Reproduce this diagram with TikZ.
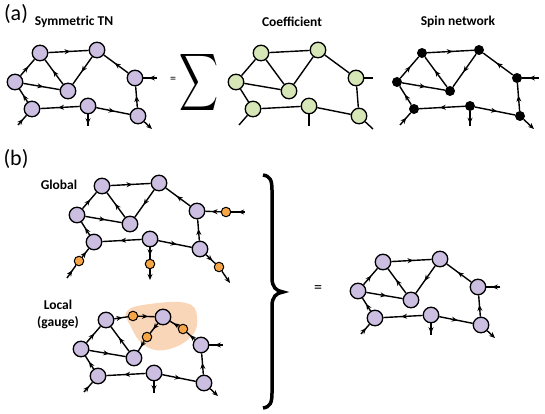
\documentclass[tikz,border=0pt]{standalone}
\usepackage{fontspec}
\setmainfont{Carlito}
\usetikzlibrary{decorations.markings,arrows.meta}
\definecolor{lav}{RGB}{203,190,225}
\definecolor{grn}{RGB}{214,230,182}
\definecolor{org}{RGB}{246,166,70}
\definecolor{peach}{RGB}{250,214,184}
\tikzset{
 pnode/.style={circle,draw=black,line width=1.3pt,fill=lav,minimum size=15.5pt,inner sep=0pt},
 gnode/.style={pnode,fill=grn},
 bnode/.style={circle,fill=black,minimum size=10pt,inner sep=0pt},
 onode/.style={circle,draw=black,line width=1pt,fill=org,minimum size=9.5pt,inner sep=0pt},
 conn/.style={line width=1.4pt},
 marr/.style={conn,postaction={decorate},decoration={markings,mark=at position #1 with {\arrow{Stealth[length=6pt,width=5pt]}}}},
 marr/.default=0.55,
 endarr/.style={conn,-{Stealth[length=6pt,width=5pt]}},
 lbl/.style={font=\bfseries\fontsize{13.5}{17}\selectfont},
}
\newcommand\netnodes[2]{%
 \node[#2] (#1A) at (40,53) {};
 \node[#2] (#1B) at (97,50) {};
 \node[#2] (#1C) at (15,82) {};
 \node[#2] (#1D) at (68,91) {};
 \node[#2] (#1E) at (135,78) {};
 \node[#2] (#1F) at (32,109) {};
 \node[#2] (#1G) at (88,106) {};
 \node[#2] (#1H) at (138,116) {};
 \coordinate (#1Ex) at (157,78);
 \coordinate (#1Fx) at (18,125);
 \coordinate (#1Gx) at (88,126);
 \coordinate (#1Hx) at (152,129);
}
\newcommand\coreedges[2]{%
 \draw[#2] (#1C) -- (#1A);
 \draw[#2] (#1D) -- (#1A);
 \draw[#2] (#1C) -- (#1D);
 \draw[#2] (#1F) -- (#1C);
 \draw[#2] (#1G) -- (#1F);
 \draw[#2] (#1G) -- (#1H);
 \draw[#2] (#1H) -- (#1E);
}
\newcommand\topedges[2]{%
 \draw[#2] (#1A) -- (#1B);
 \draw[#2] (#1B) -- (#1D);
 \draw[#2] (#1E) -- (#1B);
}
\newcommand\arrlegs[1]{%
 \draw[marr=0.6] (#1Ex) -- (#1E);
 \draw[marr=0.6] (#1Fx) -- (#1F);
 \draw[marr=0.85] (#1G) -- (#1Gx);
 \draw[endarr] (#1H) -- (#1Hx);
}
\begin{document}
\begin{tikzpicture}[x=1pt,y=-1pt]
\useasboundingbox (0,0) rectangle (545,414);
% labels
\node[font=\fontsize{22}{24}\selectfont] (la) at (16,14) {(a)};
\node[lbl] (t1) at (74,22) {Symmetric TN};
\node[lbl] (t2) at (292,22) {Coefficient};
\node[lbl] (t3) at (458,22) {Spin network};
\node[font=\fontsize{22}{24}\selectfont] (lb) at (16,159) {(b)};
\node[lbl] (t4) at (59,185) {Global};
\node[lbl,align=center] (t5) at (58,314) {Local\\(gauge)};
\node[font=\fontsize{12}{13}\selectfont] (eq1) at (173,80) {=};
\node[xscale=2.7,yscale=4] (sig) at (199,83) {$\displaystyle\sum$};
\node[font=\fontsize{16}{17}\selectfont] (eq2) at (318,289) {=};
% brace
\draw[line width=3.5pt] (263,175) .. controls (270,176) and (272,180) .. (272,190) -- (272,278) .. controls (272,287) and (276,291) .. (283,292) .. controls (276,293) and (272,297) .. (272,306) -- (272,393) .. controls (272,403) and (270,407) .. (263,408);
% symmetric TN
\netnodes{s}{pnode}
\coreedges{s}{marr}
\topedges{s}{marr}
\arrlegs{s}
% coefficient
\begin{scope}[shift={(221,0)}]
\netnodes{c}{gnode}
\end{scope}
\coreedges{c}{conn}
\topedges{c}{conn}
\draw[conn] (cE) -- ++(17,0) coordinate (cEy);
\draw[conn] (cFx) -- (cF);
\draw[conn] (cG) -- (cGx);
\draw[conn] (cH) -- (cHx);
% spin network
\begin{scope}[shift={(382,0)}]
\netnodes{p}{bnode}
\end{scope}
\coreedges{p}{marr}
\topedges{p}{marr}
\arrlegs{p}
% global
\begin{scope}[shift={(62,133)}]
\netnodes{g}{pnode}
\node[onode] (gEo) at (164,79) {};
\node[onode] (gFo) at (17,128) {};
\node[onode] (gGo) at (88,131) {};
\node[onode] (gHo) at (157,134) {};
\coordinate (gEz) at (183,79);
\coordinate (gFz) at (5,145);
\coordinate (gGz) at (88,147);
\coordinate (gHz) at (168,150);
\end{scope}
\coreedges{g}{marr}
\topedges{g}{marr}
\draw[marr=0.5] (gEz) -- (gEo);
\draw[marr=0.6] (gEo) -- (gE);
\draw[marr=0.6] (gFz) -- (gFo);
\draw[marr=0.6] (gFo) -- (gF);
\draw[marr=0.7] (gG) -- (gGo);
\draw[endarr] (gGo) -- (gGz);
\draw[marr=0.7] (gH) -- (gHo);
\draw[endarr] (gHo) -- (gHz);
% local
\fill[peach] plot[smooth cycle, tension=0.7] coordinates {(127,311) (150,304) (186,303) (197,316) (191,337) (165,350) (144,345) (131,327)};
\begin{scope}[shift={(66,267)}]
\netnodes{l}{pnode}
\node[onode] (lO1) at (67,49) {};
\node[onode] (lO2) at (81,70) {};
\node[onode] (lO3) at (117,62) {};
\end{scope}
\coreedges{l}{marr}
\draw[marr=0.6] (lA) -- (lO1);
\draw[marr=0.6] (lO1) -- (lB);
\draw[marr=0.6] (lB) -- (lO2);
\draw[marr=0.6] (lO2) -- (lD);
\draw[marr=0.6] (lE) -- (lO3);
\draw[marr=0.6] (lO3) -- (lB);
\arrlegs{l}
% result
\begin{scope}[shift={(343,209)}]
\netnodes{r}{pnode}
\end{scope}
\coreedges{r}{marr}
\topedges{r}{marr}
\arrlegs{r}
\end{tikzpicture}
\end{document}
